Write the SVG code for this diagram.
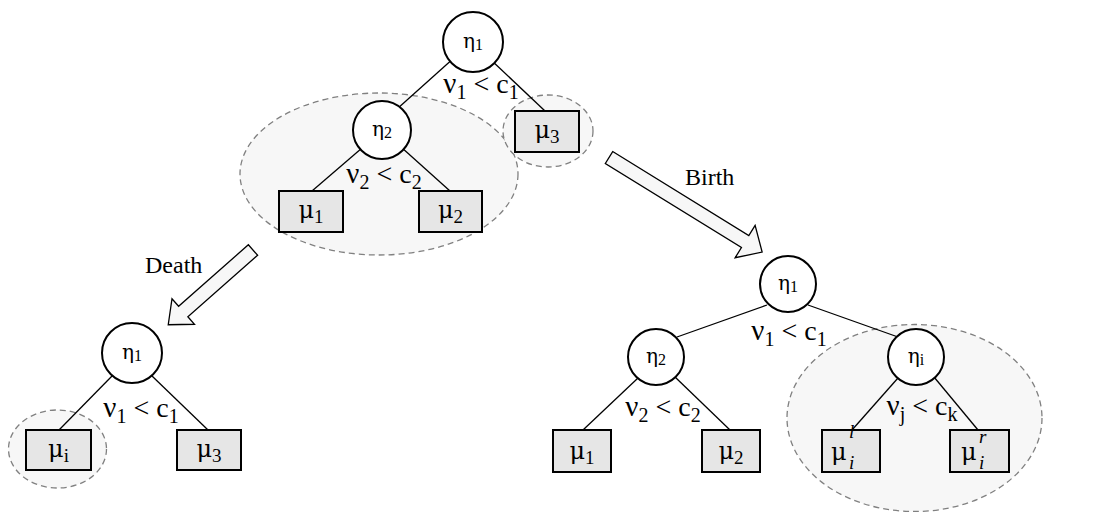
<svg xmlns="http://www.w3.org/2000/svg" width="1096" height="512" viewBox="0 0 1096 512">
<style>
.bg{fill:#ffffff}
.grp{fill:#f7f7f7;stroke:#808080;stroke-width:1.3;stroke-dasharray:6 4}
.edge{stroke:#000;stroke-width:1.3;fill:none}
.circ{fill:#fff;stroke:#000;stroke-width:2}
.box{fill:#e6e6e6;stroke:#000;stroke-width:2}
.arrow{fill:#f7f7f7;stroke:#000;stroke-width:1.3;stroke-linejoin:miter}
text{font-family:"Liberation Serif","Times New Roman",serif;fill:#000}
.g{font-family:"DejaVu Serif","Liberation Serif",serif}
.eta{font-size:20px}
.etas{font-size:16px}
.lbl{font-size:28px}
.lg{font-size:29px}
.sub{font-size:20px}
.mu{font-size:24px}
.musub{font-size:19px}
.it{font-size:19px;font-style:italic}
.word{font-size:24px}
</style>
<rect class="bg" x="0" y="0" width="1096" height="512"/>

<g id="groups">
  <ellipse class="grp" cx="379" cy="174" rx="139" ry="81"/>
  <ellipse class="grp" cx="548" cy="131" rx="45" ry="36"/>
  <ellipse class="grp" cx="57.5" cy="449" rx="49" ry="39"/>
  <ellipse class="grp" cx="914.5" cy="418" rx="127.5" ry="93.5"/>
</g>

<g id="connectors">
  <line class="edge" x1="455" y1="57" x2="397" y2="109"/>
  <line class="edge" x1="490" y1="59" x2="545" y2="111"/>
  <line class="edge" x1="362" y1="148" x2="312" y2="191"/>
  <line class="edge" x1="401" y1="147" x2="450" y2="191"/>
  <line class="edge" x1="113" y1="375" x2="59" y2="430"/>
  <line class="edge" x1="152" y1="376" x2="208" y2="430"/>
  <line class="edge" x1="767" y1="305" x2="677" y2="337"/>
  <line class="edge" x1="808" y1="305" x2="898" y2="337"/>
  <line class="edge" x1="638" y1="378" x2="583" y2="430"/>
  <line class="edge" x1="675" y1="377" x2="730" y2="430"/>
  <line class="edge" x1="898" y1="378" x2="852" y2="430"/>
  <line class="edge" x1="934" y1="377" x2="978" y2="430"/>
</g>

<g id="arrow-birth">
  <polygon class="arrow" transform="translate(609,157.5) rotate(31.7)" points="0,-7 160,-7 160,-19 180,0 160,19 160,7 0,7"/>
  <text class="word" x="685" y="185">Birth</text>
</g>
<g id="arrow-death">
  <polygon class="arrow" transform="translate(253,250) rotate(138.6)" points="0,-7 93,-7 93,-17 113,0 93,17 93,7 0,7"/>
  <text class="word" x="145" y="273">Death</text>
</g>

<!-- Top tree -->
<g id="t-eta1">
  <circle class="circ" cx="473" cy="42" r="30"/>
  <text x="473" y="48" text-anchor="middle"><tspan class="g eta">η</tspan><tspan class="etas" dy="2">1</tspan></text>
</g>
<g id="t-split1">
  <text class="lbl" x="481" y="93" text-anchor="middle"><tspan class="lg">ν</tspan><tspan class="sub" dy="6">1</tspan><tspan dy="-6"> &lt; c</tspan><tspan class="sub" dy="6">1</tspan></text>
</g>
<g id="t-eta2">
  <circle class="circ" cx="382" cy="130" r="29"/>
  <text x="382" y="136" text-anchor="middle"><tspan class="g eta">η</tspan><tspan class="etas" dy="2">2</tspan></text>
</g>
<g id="t-split2">
  <text class="lbl" x="384" y="183" text-anchor="middle"><tspan class="lg">ν</tspan><tspan class="sub" dy="6">2</tspan><tspan dy="-6"> &lt; c</tspan><tspan class="sub" dy="6">2</tspan></text>
</g>
<g id="t-mu3">
  <rect class="box" x="515" y="111" width="64" height="41"/>
  <text x="547" y="138" text-anchor="middle"><tspan class="g mu">μ</tspan><tspan class="musub" dy="5">3</tspan></text>
</g>
<g id="t-mu1">
  <rect class="box" x="279" y="191" width="64" height="41"/>
  <text x="311" y="218" text-anchor="middle"><tspan class="g mu">μ</tspan><tspan class="musub" dy="5">1</tspan></text>
</g>
<g id="t-mu2">
  <rect class="box" x="419" y="191" width="63" height="41"/>
  <text x="450.5" y="218" text-anchor="middle"><tspan class="g mu">μ</tspan><tspan class="musub" dy="5">2</tspan></text>
</g>

<!-- Bottom-left tree (after death) -->
<g id="d-eta1">
  <circle class="circ" cx="132" cy="353" r="30"/>
  <text x="132" y="359" text-anchor="middle"><tspan class="g eta">η</tspan><tspan class="etas" dy="2">1</tspan></text>
</g>
<g id="d-split1">
  <text class="lbl" x="141" y="417" text-anchor="middle"><tspan class="lg">ν</tspan><tspan class="sub" dy="6">1</tspan><tspan dy="-6"> &lt; c</tspan><tspan class="sub" dy="6">1</tspan></text>
</g>
<g id="d-mui">
  <rect class="box" x="26" y="430" width="65" height="40"/>
  <text x="58.5" y="457" text-anchor="middle"><tspan class="g mu">μ</tspan><tspan class="musub" dy="5">i</tspan></text>
</g>
<g id="d-mu3">
  <rect class="box" x="177" y="430" width="64" height="40"/>
  <text x="209" y="457" text-anchor="middle"><tspan class="g mu">μ</tspan><tspan class="musub" dy="5">3</tspan></text>
</g>

<!-- Bottom-right tree (after birth) -->
<g id="b-eta1">
  <circle class="circ" cx="788" cy="284" r="28"/>
  <text x="788" y="290" text-anchor="middle"><tspan class="g eta">η</tspan><tspan class="etas" dy="2">1</tspan></text>
</g>
<g id="b-split1">
  <text class="lbl" x="789" y="340" text-anchor="middle"><tspan class="lg">ν</tspan><tspan class="sub" dy="6">1</tspan><tspan dy="-6"> &lt; c</tspan><tspan class="sub" dy="6">1</tspan></text>
</g>
<g id="b-eta2">
  <circle class="circ" cx="656" cy="357" r="28"/>
  <text x="656" y="363" text-anchor="middle"><tspan class="g eta">η</tspan><tspan class="etas" dy="2">2</tspan></text>
</g>
<g id="b-split2">
  <text class="lbl" x="663" y="416" text-anchor="middle"><tspan class="lg">ν</tspan><tspan class="sub" dy="6">2</tspan><tspan dy="-6"> &lt; c</tspan><tspan class="sub" dy="6">2</tspan></text>
</g>
<g id="b-etai">
  <circle class="circ" cx="916" cy="357" r="28"/>
  <text x="916" y="363" text-anchor="middle"><tspan class="g eta">η</tspan><tspan class="etas" dy="2">i</tspan></text>
</g>
<g id="b-splitj">
  <text class="lbl" x="922" y="415" text-anchor="middle"><tspan class="lg">ν</tspan><tspan class="sub" dy="6">j</tspan><tspan dy="-6"> &lt; c</tspan><tspan class="sub" dy="6">k</tspan></text>
</g>
<g id="b-mu1">
  <rect class="box" x="553" y="430" width="58" height="42"/>
  <text x="582" y="459" text-anchor="middle"><tspan class="g mu">μ</tspan><tspan class="musub" dy="5">1</tspan></text>
</g>
<g id="b-mu2">
  <rect class="box" x="702" y="430" width="58" height="42"/>
  <text x="731" y="459" text-anchor="middle"><tspan class="g mu">μ</tspan><tspan class="musub" dy="5">2</tspan></text>
</g>
<g id="b-muil">
  <rect class="box" x="822" y="430" width="58" height="42"/>
  <text class="g mu" x="831" y="460">μ</text>
  <text class="it" x="849" y="438">l</text>
  <text class="it" x="849" y="469">i</text>
</g>
<g id="b-muir">
  <rect class="box" x="950" y="430" width="59" height="42"/>
  <text class="g mu" x="961" y="460">μ</text>
  <text class="it" x="979" y="443">r</text>
  <text class="it" x="979" y="469">i</text>
</g>
</svg>
